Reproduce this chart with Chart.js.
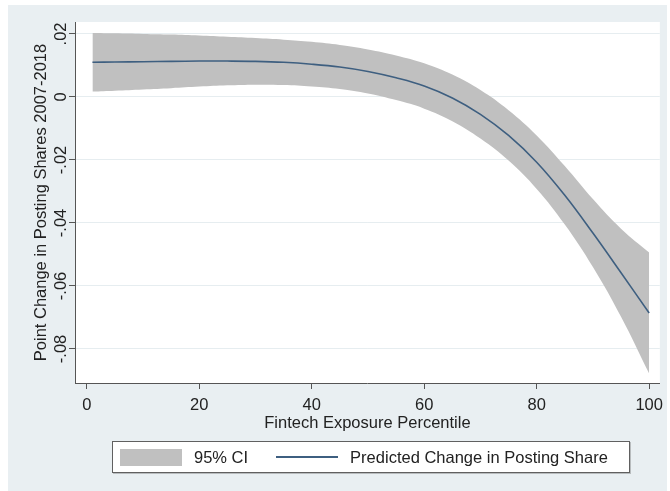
<!DOCTYPE html>
<html lang="en">
<head>
    <meta charset="UTF-8">
    <title>Predicted Change in Posting Share</title>
    <script src="https://cdn.jsdelivr.net/npm/chart.js"></script>
    <style>
        body { margin: 0; background: #fff; font-family: "Liberation Sans", Arial, sans-serif; }
        #wrap { position: relative; width: 670px; height: 491px; }
        canvas { position: absolute; left: 0; top: 0; }
        #legend { position: absolute; left: 112px; top: 441px; width: 516px; height: 30px; background: #fff;
                  border: 1px solid #606060; box-shadow: 1px 1px 0 #b8bcbe; display: flex; align-items: center;
                  font-size: 16.5px; color: #222; }
        .swatch { width: 62px; height: 17px; background: #c0c0c0; margin-left: 7px; }
        .lineswatch { width: 62px; height: 2px; background: #3e5f80; margin-left: 28px; }
        .lbl1 { margin-left: 12px; }
        .lbl2 { margin-left: 12px; }
    </style>
</head>
<body>
<div id="wrap">
    <canvas id="chart" width="670" height="491"></canvas>
    <div id="legend">
        <div class="swatch"></div><span class="lbl1">95% CI</span>
        <div class="lineswatch"></div><span class="lbl2">Predicted Change in Posting Share</span>
    </div>
</div>
<script>
    // --- data ---
    const percentile = [1, 5, 10, 15, 20, 25, 30, 35, 40, 45, 50, 55, 60, 65, 70, 75, 80, 85, 90, 95, 100];
    const predicted = [0.0110, 0.0111, 0.0112, 0.0113, 0.0114, 0.0114, 0.0113, 0.0110, 0.0104, 0.0095, 0.0081,
                       0.0061, 0.0035, -0.0003, -0.0055, -0.0122, -0.0207, -0.0312, -0.0432, -0.0558, -0.0686];
    const ciUpper = [0.0203, 0.0202, 0.0200, 0.0198, 0.0195, 0.0191, 0.0187, 0.0182, 0.0175, 0.0165, 0.0151,
                     0.0132, 0.0107, 0.0071, 0.0022, -0.0042, -0.0122, -0.0219, -0.0324, -0.0418, -0.0494];
    const ciLower = [0.0017, 0.0020, 0.0024, 0.0028, 0.0033, 0.0037, 0.0039, 0.0038, 0.0033, 0.0025, 0.0011,
                     -0.0010, -0.0037, -0.0077, -0.0132, -0.0202, -0.0292, -0.0405, -0.0540, -0.0698, -0.0878];
    const yTicks = [0.02, 0, -0.02, -0.04, -0.06, -0.08];
    const yTickLabels = ['.02', '0', '-.02', '-.04', '-.06', '-.08'];
    const xTicks = [0, 20, 40, 60, 80, 100];

    const pts = arr => percentile.map((x, i) => ({ x: x, y: arr[i] }));

    // stata-ish backgrounds
    const bgPlugin = {
        id: 'bg',
        beforeDraw(chart) {
            const ctx = chart.ctx;
            const a = chart.chartArea;
            ctx.save();
            ctx.fillStyle = '#ffffff';
            ctx.fillRect(0, 0, chart.width, chart.height);
            ctx.fillStyle = '#e9eff2';
            ctx.fillRect(8, 5, chart.width - 11, chart.height - 5);
            ctx.fillStyle = '#ffffff';
            ctx.fillRect(a.left, a.top, a.right - a.left, a.bottom - a.top);
            ctx.restore();
        }
    };

    const axisFont = { family: '"Liberation Sans", Arial, sans-serif', size: 16.5 };

    new Chart(document.getElementById('chart'), {
        type: 'line',
        data: {
            datasets: [
                {
                    label: 'Predicted Change in Posting Share',
                    data: pts(predicted),
                    borderColor: '#3e5f80',
                    borderWidth: 1.6,
                    pointRadius: 0,
                    fill: false,
                    tension: 0.4,
                    order: 0
                },
                {
                    label: '95% CI',
                    data: pts(ciUpper),
                    borderWidth: 0,
                    borderColor: 'rgba(0,0,0,0)',
                    backgroundColor: '#c0c0c0',
                    pointRadius: 0,
                    fill: '+1',
                    tension: 0.4,
                    order: 1
                },
                {
                    label: 'lower',
                    data: pts(ciLower),
                    borderWidth: 0,
                    borderColor: 'rgba(0,0,0,0)',
                    pointRadius: 0,
                    fill: false,
                    tension: 0.4,
                    order: 2
                }
            ]
        },
        options: {
            responsive: false,
            animation: false,
            devicePixelRatio: 1,
            layout: { padding: { left: 22, top: 22, right: 5, bottom: 58 } },
            plugins: { legend: { display: false }, tooltip: { enabled: false } },
            scales: {
                x: {
                    type: 'linear',
                    min: -2.1,
                    max: 101.9,
                    afterBuildTicks: s => { s.ticks = xTicks.map(v => ({ value: v })); },
                    afterFit: s => { s.height = 50; },
                    grid: { drawOnChartArea: false, drawTicks: true, tickLength: 6, tickColor: '#555', color: '#555' },
                    border: { display: true, color: '#555', width: 1 },
                    ticks: { font: axisFont, color: '#222', padding: 7, maxRotation: 0 },
                    title: { display: true, text: 'Fintech Exposure Percentile', font: axisFont, color: '#222',
                             padding: { top: 0, bottom: 0 } }
                },
                y: {
                    type: 'linear',
                    min: -0.0908,
                    max: 0.0238,
                    afterBuildTicks: s => { s.ticks = yTicks.map(v => ({ value: v })); },
                    afterFit: s => { s.width = 53; },
                    grid: { color: '#e6edf0', drawTicks: true, tickLength: 6, tickColor: '#555' },
                    border: { display: true, color: '#555', width: 1 },
                    ticks: {
                        font: axisFont, color: '#222', padding: -7, minRotation: 90, maxRotation: 90,
                        crossAlign: 'center',
                        callback: (v, i) => yTickLabels[i]
                    },
                    title: { display: true, text: 'Point Change in Posting Shares 2007-2018', font: axisFont,
                             color: '#222', padding: { top: 10, bottom: 4 } }
                }
            }
        },
        plugins: [bgPlugin]
    });
</script>
</body>
</html>
